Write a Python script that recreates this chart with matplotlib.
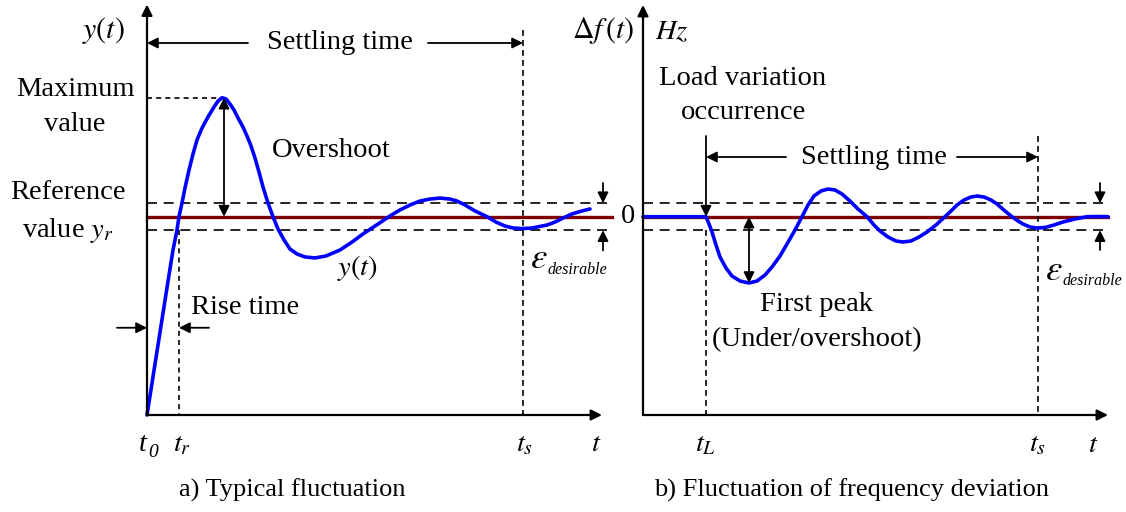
import matplotlib.pyplot as plt

plt.rcParams['font.family'] = ['Liberation Serif', 'DejaVu Serif']
plt.rcParams['mathtext.fontset'] = 'stix'

# --- panel a: typical step response (t in arbitrary units, y relative to y_r = 1)
t_a = [0.00, 0.11, 0.22, 0.26, 0.30, 0.32, 0.35, 0.38, 0.42, 0.46, 0.50, 0.55, 0.61,
       0.67, 0.71, 0.75, 0.79, 0.83, 0.87, 0.91, 0.96, 1.00, 1.04, 1.08, 1.12, 1.16,
       1.21, 1.26, 1.31, 1.37, 1.43, 1.50, 1.58, 1.68, 1.79, 1.93, 2.05, 2.16, 2.25,
       2.34, 2.43, 2.53, 2.63, 2.73, 2.83, 2.93, 3.03, 3.10, 3.18, 3.28, 3.40, 3.49,
       3.58, 3.66, 3.75, 3.85, 4.00, 4.08, 4.16, 4.25, 4.35, 4.43]
y_a = [0.000, 0.353, 0.706, 0.832, 0.933, 1.000, 1.069, 1.145, 1.235, 1.316, 1.387,
       1.447, 1.503, 1.553, 1.583, 1.600, 1.594, 1.568, 1.538, 1.498, 1.452, 1.407,
       1.357, 1.296, 1.225, 1.150, 1.069, 1.000, 0.938, 0.883, 0.837, 0.812, 0.797,
       0.792, 0.802, 0.832, 0.872, 0.913, 0.943, 0.973, 1.004, 1.034, 1.059, 1.079,
       1.089, 1.094, 1.089, 1.079, 1.059, 1.029, 1.000, 0.973, 0.953, 0.943, 0.940,
       0.943, 0.958, 0.973, 0.993, 1.014, 1.029, 1.039]
y_ref = 1.0
eps_a = 0.068
t_rise = 0.32
t_settle_a = 3.76
t_peak = 0.75
y_max = 1.60

# --- panel b: frequency deviation (Hz, arbitrary scale)
t_b = [0.00, 0.63, 0.66, 0.69, 0.73, 0.77, 0.83, 0.89, 0.97, 1.06, 1.14, 1.22, 1.29,
       1.37, 1.44, 1.52, 1.59, 1.65, 1.71, 1.78, 1.85, 1.92, 1.99, 2.07, 2.15, 2.24,
       2.31, 2.37, 2.45, 2.53, 2.60, 2.68, 2.76, 2.84, 2.93, 3.02, 3.08, 3.14, 3.21,
       3.28, 3.34, 3.41, 3.48, 3.54, 3.62, 3.69, 3.75, 3.80, 3.87, 3.94, 4.02, 4.11,
       4.20, 4.32, 4.44, 4.54, 4.65]
df_b = [0.000, 0.000, -0.073, -0.153, -0.283, -0.403, -0.513, -0.593, -0.643, -0.663,
        -0.643, -0.583, -0.503, -0.393, -0.273, -0.133, 0.000, 0.117, 0.207, 0.257,
        0.277, 0.267, 0.227, 0.157, 0.077, 0.000, -0.083, -0.143, -0.203, -0.243,
        -0.253, -0.243, -0.203, -0.153, -0.083, 0.000, 0.057, 0.117, 0.167, 0.197,
        0.207, 0.197, 0.167, 0.127, 0.057, 0.000, -0.043, -0.073, -0.103, -0.113,
        -0.108, -0.083, -0.053, -0.023, 0.000, 0.002, 0.000]
eps_b = 0.135
t_load = 0.63
t_settle_b = 3.95
df_peak = -0.663

BLUE = '#0000ff'
RED = '#800000'
FS = 20.5
LS = 1.5

fig = plt.figure(figsize=(11.26, 5.12), dpi=100)
ax_a = fig.add_axes([147 / 1126, 97 / 512, 465 / 1126, 410 / 512])
ax_b = fig.add_axes([643 / 1126, 97 / 512, 465 / 1126, 410 / 512])
ax_a.set_xlim(0, 4.65)
ax_a.set_ylim(0, 410 / 198.3)
ax_b.set_xlim(0, 4.65)
ax_b.set_ylim(-1.983, 2.117)
for ax in (ax_a, ax_b):
    ax.axis('off')

head = dict(arrowstyle='-|>', mutation_scale=16, lw=1.3, color='k',
            shrinkA=0, shrinkB=0)
both = dict(arrowstyle='<|-|>', mutation_scale=16, lw=1.3, color='k',
            shrinkA=0, shrinkB=0)


def arrow(ax, tip, tail, props=head):
    ax.annotate('', xy=tip, xytext=tail, arrowprops=props, annotation_clip=False)


def dashed(ax, xs, ys, dash=(5, 3.5), lw=1.2):
    ax.plot(xs, ys, color='k', lw=lw, dashes=dash, clip_on=False)


def epsilon(ax, x, y):
    # big epsilon with a small italic subscript, as in the source figure
    ax.annotate(r'$\varepsilon$', (x, y), fontsize=FS + 6, ha='left', va='baseline',
                annotation_clip=False)
    ax.annotate('desirable', (x, y), xytext=(12.5, -4), textcoords='offset points',
                fontsize=11.5, style='italic', ha='left', va='baseline',
                annotation_clip=False)


# ---------------- panel a ----------------
ax = ax_a
arrow(ax, (0, 2.07), (0, 0), dict(head, lw=1.6))
arrow(ax, (4.55, 0), (0, 0), dict(head, lw=1.6))
ax.plot([0, 4.65], [y_ref, y_ref], color=RED, lw=2.4, clip_on=False)
dashed(ax, [0, 4.64], [y_ref + eps_a] * 2, dash=(6, 4))
dashed(ax, [0, 4.64], [y_ref - eps_a] * 2, dash=(6, 4))
dashed(ax, [0, t_peak], [y_max, y_max], dash=(3, 2.5))
dashed(ax, [t_rise, t_rise], [y_ref - eps_a, 0], dash=(3, 2.5))
dashed(ax, [t_settle_a, t_settle_a], [1.94, 0], dash=(3.5, 2.5))
ax.plot(t_a, y_a, color=BLUE, lw=2.6, clip_on=False, solid_capstyle='round',
        solid_joinstyle='round')

arrow(ax, (0.77, y_ref), (0.77, y_max), both)
arrow(ax, (4.56, y_ref + eps_a), (4.56, 1.17))
arrow(ax, (4.56, y_ref - eps_a), (4.56, 0.83))
arrow(ax, (0, 1.876), (1.01, 1.876))
arrow(ax, (t_settle_a, 1.876), (2.81, 1.876))
arrow(ax, (0, 0.44), (-0.30, 0.44))
arrow(ax, (t_rise, 0.44), (0.62, 0.44))

ax.text(1.93, 1.876, 'Settling time', fontsize=FS, ha='center', va='center')
ax.text(-0.44, 1.94, '$y(t)$', fontsize=FS + 1, ha='center', va='center')
ax.text(-0.72, 1.553, 'Maximum\nvalue', fontsize=FS, ha='center', va='center',
        linespacing=LS)
ax.text(1.84, 1.336, 'Overshoot', fontsize=FS, ha='center', va='center')
ax.text(-0.79, 1.02, 'Reference\nvalue $y_r$', fontsize=FS, ha='center',
        va='center', linespacing=LS)
ax.text(2.10, 0.741, '$y(t)$', fontsize=FS, ha='center', va='center')
epsilon(ax, 3.83, 0.74)
ax.text(0.98, 0.54, 'Rise time', fontsize=FS, ha='center', va='center')
# t0 drawn as italic t with an italic subscript zero
ax.text(-0.045, -0.151, 't', fontsize=FS, style='italic', ha='center', va='center')
ax.annotate('0', (-0.045, -0.151), xytext=(4, -9), textcoords='offset points',
            fontsize=14, style='italic', ha='left', va='baseline',
            annotation_clip=False)
for x, lab in [(0.35, '$t_r$'), (3.78, '$t_s$'), (4.49, '$t$')]:
    ax.text(x, -0.151, lab, fontsize=FS, ha='center', va='center')
ax.text(1.45, -0.378, 'a) Typical fluctuation', fontsize=FS - 1.5, ha='center',
        va='center')

# ---------------- panel b ----------------
ax = ax_b
arrow(ax, (0, 2.117), (0, -1.983), dict(head, lw=1.6))
arrow(ax, (4.65, -1.983), (0, -1.983), dict(head, lw=1.6))
ax.plot([0, 4.65], [0, 0], color=RED, lw=2.4, clip_on=False)
dashed(ax, [0, 4.63], [eps_b] * 2, dash=(6, 4))
dashed(ax, [0, 4.63], [-eps_b] * 2, dash=(6, 4))
dashed(ax, [t_load, t_load], [-eps_b, -1.983], dash=(3.5, 2.5))
dashed(ax, [t_settle_b, t_settle_b], [0.807, -1.983], dash=(3.5, 2.5))
ax.plot(t_b, df_b, color=BLUE, lw=2.6, clip_on=False, solid_capstyle='round',
        solid_joinstyle='round')

arrow(ax, (t_load, 0), (t_load, 0.807))
arrow(ax, (1.06, df_peak), (1.06, 0), both)
arrow(ax, (4.57, eps_b), (4.57, 0.337))
arrow(ax, (4.57, -eps_b), (4.57, -0.333))
arrow(ax, (t_load, 0.597), (1.43, 0.597))
arrow(ax, (t_settle_b, 0.597), (3.14, 0.597))

ax.text(2.31, 0.597, 'Settling time', fontsize=FS, ha='center', va='center')
ax.text(-0.40, 1.857, r'$\Delta f\,(t)$', fontsize=FS + 1, ha='center', va='center')
ax.text(0.29, 1.837, '$Hz$', fontsize=FS, ha='center', va='center')
ax.text(1.00, 1.212, 'Load variation\noccurrence', fontsize=FS, ha='center',
        va='center', linespacing=LS)
ax.text(-0.15, 0, '0', fontsize=FS, ha='center', va='center')
ax.text(1.74, -1.053, 'First peak\n(Under/overshoot)', fontsize=FS, ha='center',
        va='center', linespacing=LS)
epsilon(ax, 4.02, -0.63)
for x, lab in [(0.63, '$t_L$'), (3.95, '$t_s$'), (4.50, '$t$')]:
    ax.text(x, -2.283, lab, fontsize=FS, ha='center', va='center')
ax.text(2.09, -2.733, 'b) Fluctuation of frequency deviation', fontsize=FS - 1.5,
        ha='center', va='center')

fig.savefig('out.png', dpi=100)
